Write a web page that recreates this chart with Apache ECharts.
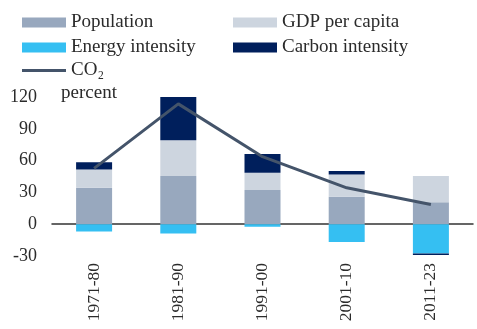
<!DOCTYPE html>
<html>
<head>
<meta charset="utf-8">
<script src="https://cdn.jsdelivr.net/npm/echarts@6/dist/echarts.min.js"></script>
<style>
  html, body { margin: 0; padding: 0; background: #fff; }
  #chart { width: 477px; height: 329px; }
</style>
</head>
<body>
<div id="chart"></div>
<script>
// Decomposition of CO2 emission growth by decade, percent
const categories = ['1971-80', '1981-90', '1991-00', '2001-10', '2011-23'];
const population = [34.3, 45.4, 32.2, 25.8, 20.8];
const gdpPerCapita = [17.4, 33.8, 16.3, 21.2, 24.6];
const energyIntensity = [-6.9, -8.8, -2.5, -16.7, -27.7];
const carbonIntensity = [6.7, 40.8, 17.7, 3.1, -1.3];
const co2 = [52.7, 113.5, 63.7, 34.3, 18.6];
const yTicks = { min: -30, max: 120, interval: 30 };

const FONT = '"Liberation Serif", "DejaVu Serif", serif';
const TEXT = '#2b2b2b';

const chart = echarts.init(document.getElementById('chart'), null, { renderer: 'canvas' });

function barSeries(name, data, color) {
  return {
    name, type: 'bar', stack: 'total', data,
    barWidth: 36,
    itemStyle: { color },
    emphasis: { disabled: true }
  };
}

const legendText = { fontFamily: FONT, fontSize: 19, color: TEXT, lineHeight: 19 };
const legendBase = {
  orient: 'vertical', padding: 0, icon: 'rect',
  itemWidth: 44, itemHeight: 10, itemGap: 6,
  textStyle: legendText, selectedMode: false
};

chart.setOption({
  animation: false,
  textStyle: { fontFamily: FONT },
  title: {
    text: 'percent',
    left: 56, top: 79,
    textStyle: { fontFamily: FONT, fontSize: 19, fontWeight: 'normal', color: TEXT }
  },
  legend: [
    Object.assign({}, legendBase, {
      data: ['Population', 'Energy intensity'], left: 22, top: 13
    }),
    Object.assign({}, legendBase, {
      data: ['GDP per capita', 'Carbon intensity'], left: 233, top: 13
    }),
    Object.assign({}, legendBase, {
      data: ['CO\u2082'], left: 22, top: 61, itemHeight: 3
    })
  ],
  grid: { left: 52, right: 4, top: 97, bottom: 73, containLabel: false },
  xAxis: [
    {
      type: 'category', data: categories, position: 'bottom',
      axisLine: { show: false, onZero: false },
      axisTick: { show: false },
      axisLabel: { rotate: 90, margin: 7, fontFamily: FONT, fontSize: 17.5, color: TEXT }
    },
    {
      type: 'category', data: categories, position: 'bottom',
      axisLine: { show: true, onZero: true, lineStyle: { color: '#333', width: 1.5 } },
      axisTick: { show: false },
      axisLabel: { show: false }
    }
  ],
  yAxis: {
    type: 'value', min: yTicks.min, max: yTicks.max, interval: yTicks.interval,
    axisLine: { show: false }, axisTick: { show: false },
    splitLine: { show: false },
    axisLabel: { margin: 15, fontFamily: FONT, fontSize: 18, color: TEXT }
  },
  series: [
    barSeries('Population', population, '#98a8be'),
    barSeries('GDP per capita', gdpPerCapita, '#cdd5df'),
    barSeries('Energy intensity', energyIntensity, '#35bff2'),
    barSeries('Carbon intensity', carbonIntensity, '#001f5c'),
    {
      name: 'CO\u2082', type: 'line', data: co2,
      symbol: 'none',
      lineStyle: { color: '#44546a', width: 3 },
      itemStyle: { color: '#44546a' },
      z: 5
    }
  ]
});
</script>
</body>
</html>
